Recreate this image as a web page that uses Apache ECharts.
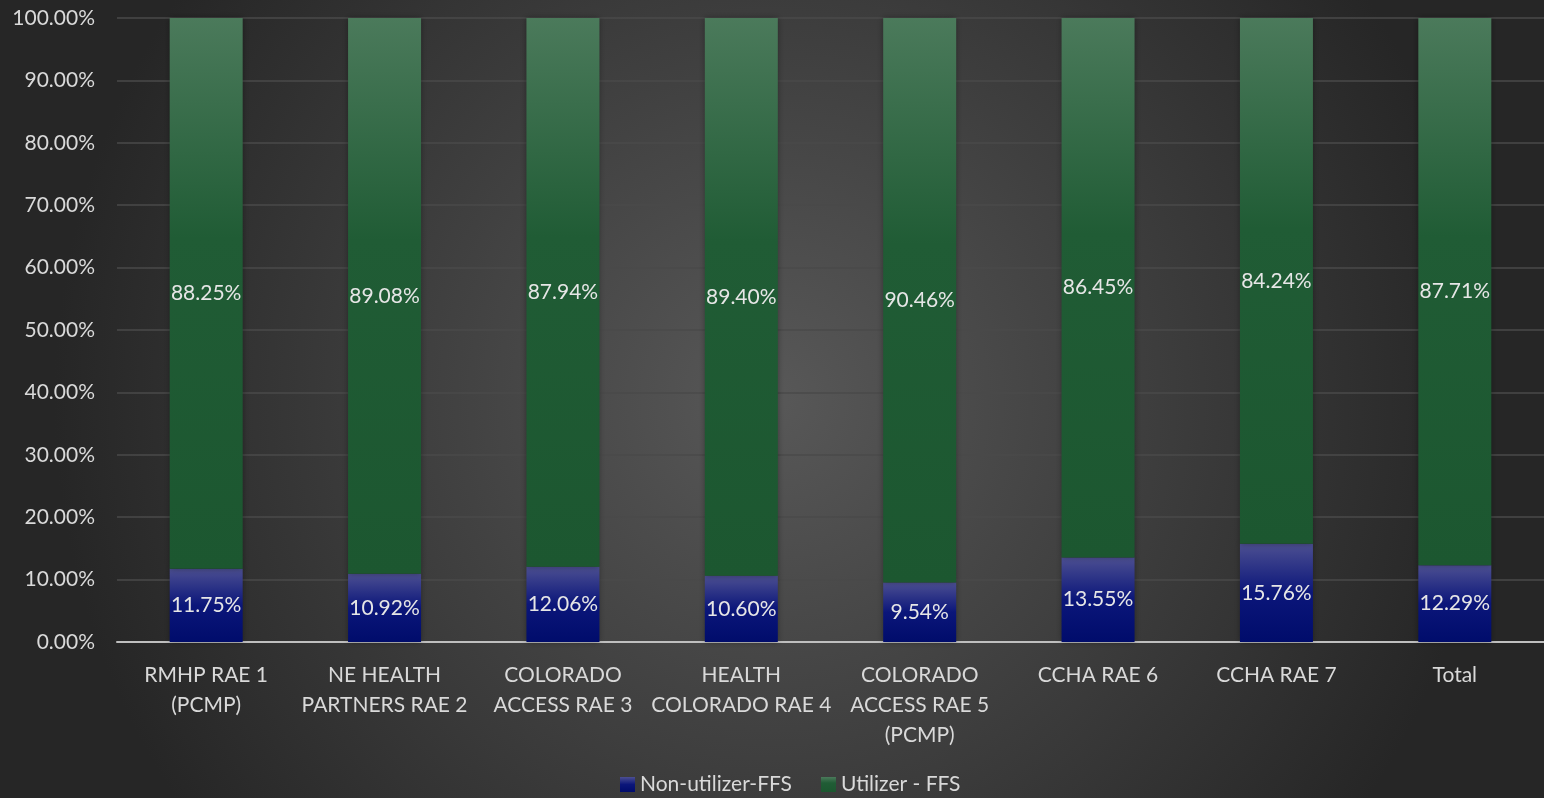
<!DOCTYPE html>
<html><head><meta charset="utf-8">
<script src="https://cdn.jsdelivr.net/npm/echarts@6/dist/echarts.min.js"></script>
<style>html,body{margin:0;padding:0;background:#2a2a2a;}#c{width:1544px;height:798px;}</style>
</head><body><div id="c"></div>
<script>
const categories = ['RMHP RAE 1\n(PCMP)','NE HEALTH\nPARTNERS RAE 2','COLORADO\nACCESS RAE 3','HEALTH\nCOLORADO RAE 4','COLORADO\nACCESS RAE 5\n(PCMP)','CCHA RAE 6','CCHA RAE 7','Total'];
const nonUtilizer = [11.75,10.92,12.06,10.60,9.54,13.55,15.76,12.29];
const utilizer = [88.25,89.08,87.94,89.40,90.46,86.45,84.24,87.71];
const seriesNames = ['Non-utilizer-FFS','Utilizer - FFS'];

const chart = echarts.init(document.getElementById('c'));
const font = 'Lato, "Open Sans", sans-serif';
const lbl = {show:true, position:'inside', color:'#e6e6e6', fontSize:21, fontFamily:font, formatter: p => p.value.toFixed(2)+'%'};
chart.setOption({
  backgroundColor: {type:'radial', x:0.5, y:0.5, r:0.9, colorStops:[{offset:0,color:'#585858'},{offset:1,color:'#262626'}]},
  animation:false,
  grid:{left:117, width:1430, top:18, bottom:156},
  legend:{bottom:-2, left:615, itemWidth:15, itemHeight:15, itemGap:29,
    textStyle:{color:'#d9d9d9', fontSize:21, fontFamily:font},
    data:[{name:seriesNames[0], icon:'rect'},{name:seriesNames[1], icon:'rect'}]},
  xAxis:{type:'category', data:categories,
    axisLine:{lineStyle:{color:'#bfbfbf', width:2}}, axisTick:{show:false},
    axisLabel:{color:'#d9d9d9', fontSize:21, fontFamily:font, lineHeight:30, margin:18, interval:0}},
  yAxis:{type:'value', min:0, max:100, interval:10,
    axisLine:{show:false}, axisTick:{show:false},
    splitLine:{lineStyle:{color:'#4a4a4a', width:1.5}},
    axisLabel:{color:'#d9d9d9', fontSize:21, fontFamily:font, margin:22, formatter: v => v.toFixed(2)+'%'}},
  series:[
    {name:seriesNames[0], type:'bar', stack:'a', barWidth:73, data:nonUtilizer, label:lbl,
      itemStyle:{color:{type:'linear',x:0,y:0,x2:0,y2:1,colorStops:[{offset:0,color:'#4c4f92'},{offset:0.5,color:'#0b167a'},{offset:1,color:'#000c6b'}]},
        shadowColor:'rgba(0,0,0,0.35)', shadowBlur:6}},
    {name:seriesNames[1], type:'bar', stack:'a', barWidth:73, data:utilizer, label:lbl,
      itemStyle:{color:{type:'linear',x:0,y:0,x2:0,y2:1,colorStops:[{offset:0,color:'#4b7a5b'},{offset:0.4,color:'#205c35'},{offset:1,color:'#1c5730'}]},
        shadowColor:'rgba(0,0,0,0.35)', shadowBlur:6}}
  ]
});
</script></body></html>
